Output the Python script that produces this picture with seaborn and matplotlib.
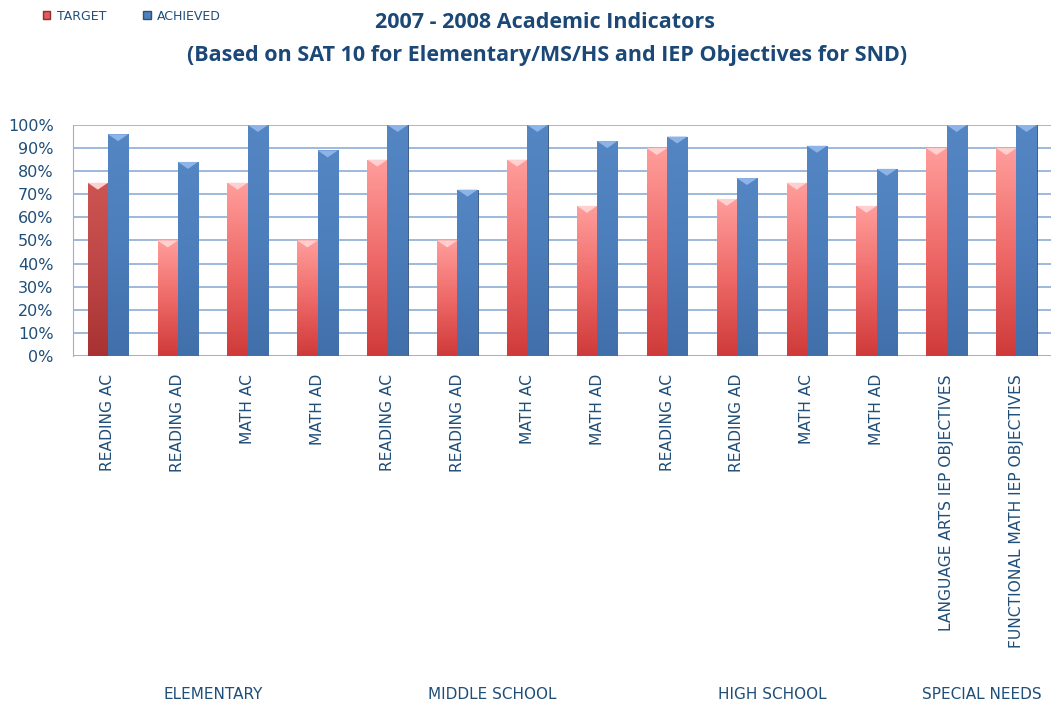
import numpy as np
import pandas as pd
import seaborn as sns
import matplotlib.pyplot as plt
from matplotlib.colors import LinearSegmentedColormap
from matplotlib.patches import Patch

# Chart data
categories = ['READING AC', 'READING AD', 'MATH AC', 'MATH AD',
              'READING AC ', 'READING AD ', 'MATH AC ', 'MATH AD ',
              'READING AC  ', 'READING AD  ', 'MATH AC  ', 'MATH AD  ',
              'LANGUAGE ARTS IEP OBJECTIVES', 'FUNCTIONAL MATH IEP OBJECTIVES']
target = [75, 50, 75, 50, 85, 50, 85, 65, 90, 68, 75, 65, 90, 90]
achieved = [96, 84, 100, 89, 100, 72, 100, 93, 95, 77, 91, 81, 100, 100]
groups = ['ELEMENTARY', 'MIDDLE SCHOOL', 'HIGH SCHOOL', 'SPECIAL NEEDS']
group_sizes = [4, 4, 4, 2]

df = pd.DataFrame({
    'category': categories * 2,
    'value': target + achieved,
    'series': ['TARGET'] * len(categories) + ['ACHIEVED'] * len(categories),
})

text_col = '#1F4E79'
red = '#E55A58'
blue = '#4F81BD'

sns.set_style('white')
plt.rcParams['font.family'] = ['DejaVu Sans']

fig = plt.figure(figsize=(10.52, 7.07), dpi=100)
ax = fig.add_axes([0.0694, 0.4965, 0.93, 0.3267])

sns.barplot(data=df, x='category', y='value', hue='series',
            palette={'TARGET': red, 'ACHIEVED': blue},
            width=0.58, ax=ax, legend=False, zorder=3)

# gradient fill on each bar, similar to the glossy Excel look
red_grad = LinearSegmentedColormap.from_list('r', ['#CF3A3A', '#EE6A68', '#FF9E9C'])
dark_grad = LinearSegmentedColormap.from_list('d', ['#A83232', '#BE4646', '#CC5553'])
blue_grad = LinearSegmentedColormap.from_list('b', ['#416FAA', '#4C7EBB', '#5586C4'])
grad = np.linspace(0, 1, 256).reshape(-1, 1)
for i, bar in enumerate(ax.patches):
    x0, y0 = bar.get_x(), bar.get_y()
    w, h = bar.get_width(), bar.get_height()
    if h <= 0:
        continue
    is_red = i < len(categories)
    cmap = red_grad if is_red else blue_grad
    if i == 0:
        cmap = dark_grad
    bar.set_edgecolor('#8A3030' if is_red else '#30507A')
    bar.set_linewidth(0.6)
    im = ax.imshow(grad, extent=[x0, x0 + w, y0, y0 + h], origin='lower',
                   aspect='auto', cmap=cmap, zorder=3.5)
    im.set_clip_path(bar)
    # light cap at top of bar
    ax.fill([x0, x0 + w, x0 + w / 2], [y0 + h, y0 + h, y0 + h - 3],
            color='#FFD0D0' if is_red else '#8DB4E8', zorder=4, lw=0)

ax.set_xlim(-0.5, len(categories) - 0.5)
ax.set_ylim(0, 100)
ax.set_yticks(range(0, 101, 10))
ax.set_yticklabels([f'{v}%' for v in range(0, 101, 10)], color=text_col, fontsize=11.5)
ax.set_xticks(range(len(categories)))
ax.set_xticklabels([c.strip() for c in categories], rotation=90, color=text_col,
                   fontsize=11.2, va='top')
ax.tick_params(axis='x', length=0, pad=13)
ax.tick_params(axis='y', length=0, pad=14)
ax.set_xlabel('')
ax.set_ylabel('')
ax.grid(axis='y', color='#95B3D7', lw=1.3, zorder=0)
for s in ['right', 'bottom', 'top']:
    ax.spines[s].set_visible(False)
ax.spines['left'].set_color('#95B3D7')
ax.axhline(0, color='#95B3D7', lw=1.8, zorder=2)

# group labels under the categories
start = 0
for name, n in zip(groups, group_sizes):
    centre = start + (n - 1) / 2
    ax.text(centre, -1.467, name, transform=ax.get_xaxis_transform(),
            ha='center', va='center', fontsize=11, color=text_col)
    start += n

title_kw = dict(ha='center', va='center', fontsize=15.5, fontweight='bold',
                color='#1B4877', family='Open Sans')
fig.text(0.518, 0.968, '2007 - 2008 Academic Indicators', **title_kw)
fig.text(0.52, 0.921, '(Based on SAT 10 for Elementary/MS/HS and IEP Objectives for SND)', **title_kw)

handles = [Patch(facecolor=red, edgecolor='#8A3030'), Patch(facecolor=blue, edgecolor='#30507A')]
fig.legend(handles, ['TARGET', 'ACHIEVED'], loc='upper left', bbox_to_anchor=(0.03, 1.002),
           ncol=2, frameon=False, fontsize=9, labelcolor=text_col,
           handlelength=0.6, handleheight=0.6, columnspacing=3.0, handletextpad=0.5)

fig.savefig('out.png', dpi=100)
